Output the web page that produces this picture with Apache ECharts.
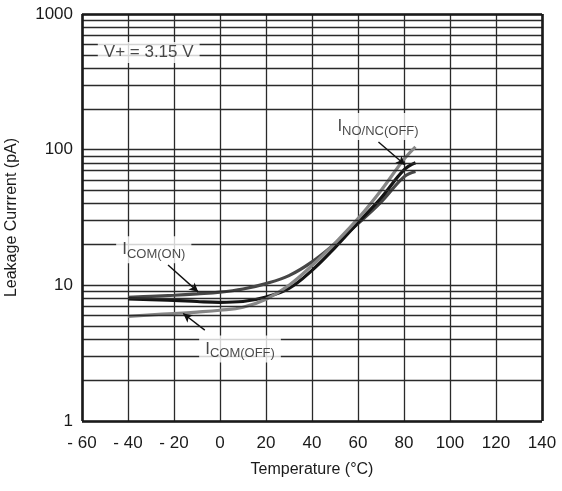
<!DOCTYPE html>
<html><head><meta charset="utf-8">
<script src="https://cdn.jsdelivr.net/npm/echarts@6/dist/echarts.min.js"></script>
<style>html,body{margin:0;padding:0;background:#fff}#c{width:562px;height:491px}</style>
</head><body><div id="c"></div>
<script>
// Data
const temps = [-40, -30, -20, -10, 0, 10, 20, 30, 40, 50, 60, 70, 80, 85];
const icomOn   = [8.15, 8.3, 8.45, 8.65, 8.9, 9.4, 10.3, 11.8, 14.9, 20.3, 28.5, 41, 63, 69];
const icomOnB  = [7.95, 7.85, 7.75, 7.6, 7.5, 7.6, 8.2, 9.5, 12.9, 19.0, 29, 44, 71, 80];
const icomOff  = [5.9, 6.05, 6.2, 6.35, 6.55, 6.9, 7.9, 10.0, 14.0, 20.5, 31, 50, 85, 105];
const xTicks = [-60, -40, -20, 0, 20, 40, 60, 80, 100, 120, 140];
const yTicks = [1, 10, 100, 1000];
const minorGrid = [2,3,4,5,6,7,8,9,20,30,40,50,60,70,80,90,200,300,400,500,600,700,800,900];

// Annotation anchors (data coordinates)
const lblVplus   = [-31, 520];
const lblComOn   = [-28.8, 18.3];
const lblComOff  = [8.7, 3.4];
const lblNoNc    = [68.7, 148];
const arrowComOn  = [[-22.6, 14.1], [-9.5, 8.95]];
const arrowComOff = [[-6.6, 4.68], [-16, 6.2]];
const arrowNoNc   = [[68.9, 114], [80.5, 77]];

const FONT = '"Liberation Sans", Arial, Helvetica, sans-serif';
const toPairs = (ys) => temps.map((t, i) => [t, ys[i]]);

const rich = {
  i: {fontSize: 17, fontFamily: FONT, color: '#1a1a1a'},
  s: {fontSize: 13, fontFamily: FONT, color: '#1a1a1a', padding: [10, 0, 0, 0]}
};

function annot(pos, text) {
  return {
    value: pos,
    label: {
      show: true, position: 'inside', formatter: text,
      backgroundColor: '#fff', padding: [2, 6, 2, 6],
      fontSize: 17, fontFamily: FONT, color: '#1a1a1a', rich: rich
    }
  };
}

function arrow(pair) {
  return [{coord: pair[0], symbol: 'none'}, {coord: pair[1], symbol: 'arrow', symbolSize: [7, 9]}];
}

const chart = echarts.init(document.getElementById('c'), null, {renderer: 'canvas'});
chart.setOption({
  animation: false,
  backgroundColor: '#fff',
  grid: {left: 82, right: 20, top: 14, bottom: 70, containLabel: false, outerBoundsMode: 'none'},
  xAxis: {
    type: 'value', min: -60, max: 140, interval: 20,
    axisLine: {show: false},
    axisTick: {show: false},
    splitLine: {show: true, lineStyle: {color: '#2a2a2a', width: 1.3}},
    axisLabel: {
      margin: 14, fontSize: 17, fontFamily: FONT, color: '#1a1a1a',
      formatter: v => (v < 0 ? '- ' + Math.abs(v) : String(v))
    },
    name: 'Temperature (°C)', nameLocation: 'middle', nameGap: 41,
    nameTextStyle: {fontSize: 16, fontFamily: FONT, color: '#1a1a1a'}
  },
  yAxis: {
    type: 'log', logBase: 10, min: 1, max: 1000,
    axisLine: {show: false},
    axisTick: {show: false},
    splitLine: {show: true, lineStyle: {color: '#2a2a2a', width: 1.3}},
    axisLabel: {margin: 9, fontSize: 17, fontFamily: FONT, color: '#1a1a1a',
      formatter: v => (yTicks.indexOf(Math.round(v)) >= 0 ? String(Math.round(v)) : '')},
    name: 'Leakage Currrent (pA)', nameLocation: 'middle', nameGap: 62,
    nameTextStyle: {fontSize: 16, fontFamily: FONT, color: '#1a1a1a'}
  },
  series: [
    {
      name: 'grid', type: 'line', data: [], silent: true, z: 1,
      markLine: {
        silent: true, symbol: 'none', animation: false,
        label: {show: false},
        lineStyle: {color: '#2a2a2a', width: 1.3, type: 'solid'},
        data: minorGrid.map(v => ({yAxis: v}))
      }
    },
    {
      name: 'frame', type: 'line', data: [], silent: true, z: 2,
      markLine: {
        silent: true, symbol: 'none', animation: false,
        label: {show: false},
        lineStyle: {color: '#1a1a1a', width: 2.6, type: 'solid'},
        data: [{xAxis: -60}, {xAxis: 140}, {yAxis: 1}, {yAxis: 1000}]
      }
    },
    {name: 'ICOM(ON) a', type: 'line', smooth: 0.4, showSymbol: false, z: 4,
      lineStyle: {color: '#474747', width: 3.2}, itemStyle: {color: '#474747'}, data: toPairs(icomOn)},
    {name: 'ICOM(ON) b', type: 'line', smooth: 0.4, showSymbol: false, z: 4,
      lineStyle: {color: '#141414', width: 3.2}, itemStyle: {color: '#141414'}, data: toPairs(icomOnB)},
    {name: 'ICOM(OFF)', type: 'line', smooth: 0.4, showSymbol: false, z: 4,
      lineStyle: {color: '#878787', width: 3.2}, itemStyle: {color: '#878787'}, data: toPairs(icomOff)},
    {
      name: 'arrows', type: 'line', data: [], silent: true, z: 6,
      markLine: {
        silent: true, animation: false, label: {show: false},
        lineStyle: {color: '#111', width: 1.4, type: 'solid'},
        data: [arrow(arrowComOn), arrow(arrowComOff), arrow(arrowNoNc)]
      }
    },
    {
      name: 'labels', type: 'scatter', symbolSize: 0, silent: true, z: 7,
      data: [
        annot(lblVplus, 'V+ = 3.15 V'),
        annot(lblComOn, '{i|I}{s|COM(ON)}'),
        annot(lblComOff, '{i|I}{s|COM(OFF)}'),
        annot(lblNoNc, '{i|I}{s|NO/NC(OFF)}')
      ]
    }
  ]
});
</script></body></html>
